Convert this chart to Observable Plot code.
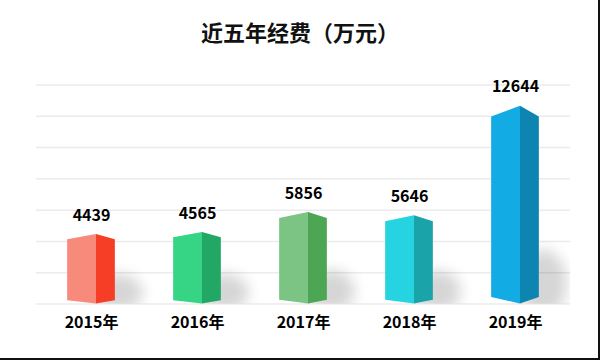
<!DOCTYPE html>
<html>
<head>
<meta charset="utf-8">
<script src="https://cdn.jsdelivr.net/npm/d3@7"></script>
<script src="https://cdn.jsdelivr.net/npm/@observablehq/plot@0.6"></script>
<style>
  html, body { margin: 0; padding: 0; background: #fff; }
  #wrap { position: relative; width: 600px; height: 360px; overflow: hidden; font-family: "Noto Sans CJK SC", sans-serif; }
  #title { height: 62px; line-height: 62px; text-align: center; font-size: 22px; font-weight: bold; color: #111; }
  #frame { position: absolute; left: 0; top: 0; width: 600px; height: 360px; box-sizing: border-box; border-right: 2px solid #111; border-bottom: 2px solid #111; pointer-events: none; }
</style>
</head>
<body>
<div id="wrap">
  <div id="title">近五年经费（万元）</div>
  <div id="chart"></div>
  <div id="frame"></div>
</div>
<script>
const years = ["2015年", "2016年", "2017年", "2018年", "2019年"];
const values = [4439, 4565, 5856, 5646, 12644];
const leftFace = ["#F88A7C", "#35D585", "#7CC484", "#26D3E0", "#12ABE3"];
const rightFace = ["#F63D26", "#22A864", "#4DA654", "#1BA3AA", "#0E84B1"];
const gridTicks = [0, 2000, 4000, 6000, 8000, 10000, 12000, 14000];

const svgNS = "http://www.w3.org/2000/svg";

function prismMark(index, scales, vals, dimensions) {
  const {width, height, marginLeft, marginRight, marginTop, marginBottom} = dimensions;
  const x = scales.x, y = scales.y;
  const bw = (x.bandwidth && x.bandwidth() > 0) ? x.bandwidth() : (width - marginLeft - marginRight) / years.length;
  const g = document.createElementNS(svgNS, "g");
  const defs = document.createElementNS(svgNS, "defs");
  defs.innerHTML =
    '<filter id="shblur" x="-1" y="-1" width="3" height="3"><feGaussianBlur stdDeviation="7"/></filter>' +
    '<clipPath id="plotclip"><rect x="' + marginLeft + '" y="' + marginTop + '" width="' + (width - marginLeft - marginRight) + '" height="' + (height - marginTop - marginBottom) + '"/></clipPath>';
  g.appendChild(defs);
  const shadows = document.createElementNS(svgNS, "g");
  shadows.setAttribute("clip-path", "url(#plotclip)");
  g.appendChild(shadows);
  const y0 = y(0);
  years.forEach((yr, i) => {
    const xc = x(yr) + bw / 2;
    const half = bw * 0.225;
    const xl = xc - half, xf = xc + bw * 0.047, xr = xc + half;
    const yt = y(values[i]);
    const h = y0 - yt;
    const d = 2 + 0.045 * h;
    const d2 = 1.5 + 0.025 * h;
    const ry = 10 + 0.12 * h;
    const e = document.createElementNS(svgNS, "ellipse");
    e.setAttribute("cx", xr + 4);
    e.setAttribute("cy", y0 - ry * 0.6);
    e.setAttribute("rx", 24);
    e.setAttribute("ry", ry);
    e.setAttribute("fill", "#000");
    e.setAttribute("opacity", 0.16);
    e.setAttribute("filter", "url(#shblur)");
    shadows.appendChild(e);
    const pl = document.createElementNS(svgNS, "polygon");
    pl.setAttribute("points", [[xl, yt + d], [xf, yt], [xf, y0], [xl, y0 - d2]].map(p => p.join(",")).join(" "));
    pl.setAttribute("fill", leftFace[i]);
    g.appendChild(pl);
    const pr = document.createElementNS(svgNS, "polygon");
    pr.setAttribute("points", [[xf, yt], [xr, yt + d], [xr, y0 - d2], [xf, y0]].map(p => p.join(",")).join(" "));
    pr.setAttribute("fill", rightFace[i]);
    g.appendChild(pr);
  });
  return g;
}

const chart = Plot.plot({
  width: 600,
  height: 298,
  marginLeft: 36,
  marginRight: 30,
  marginTop: 22.5,
  marginBottom: 56.5,
  style: {fontFamily: "'Noto Sans CJK SC', sans-serif", background: "transparent"},
  x: {type: "band", domain: years, padding: 0, axis: null},
  y: {domain: [0, 14000], axis: null},
  marks: [
    Plot.ruleY(gridTicks, {stroke: "#ebebeb", strokeWidth: 1.5}),
    prismMark,
    Plot.text(values, {x: (d, i) => years[i], y: d => d, text: d => String(d), dy: -19, fontSize: 16, fontWeight: "bold", fill: "#000"}),
    Plot.text(years, {x: d => d, y: 0, text: d => d, dy: 19, fontSize: 16, fontWeight: "bold", fill: "#000"})
  ]
});
document.getElementById("chart").appendChild(chart);
</script>
</body>
</html>
